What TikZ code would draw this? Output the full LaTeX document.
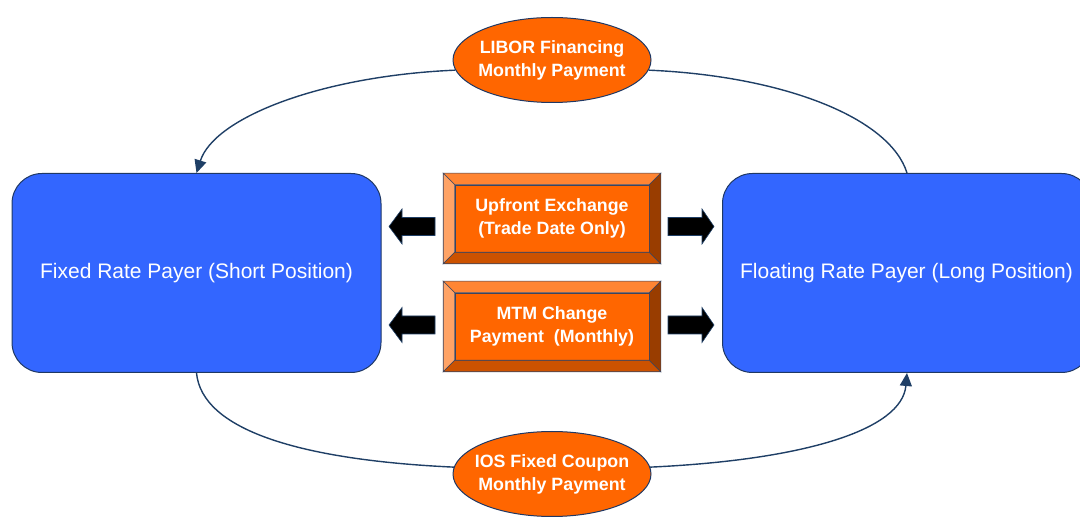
\documentclass[tikz,border=0pt]{standalone}
\usepackage{fontspec}
\setmainfont{Liberation Sans}
\usetikzlibrary{arrows.meta,shapes.geometric,calc}

\definecolor{partyblue}{HTML}{3366FF}
\definecolor{partyedge}{HTML}{1F3864}
\definecolor{floworange}{HTML}{FF6600}
\definecolor{flowline}{HTML}{1F3F66}
\definecolor{bevtop}{HTML}{FF8533}
\definecolor{bevleft}{HTML}{FFA366}
\definecolor{bevbottom}{HTML}{CC5200}
\definecolor{bevright}{HTML}{993D00}
\definecolor{beveledge}{HTML}{3A4560}

\tikzset{
  party/.style={draw=partyedge, line width=1pt, fill=partyblue, rounded corners=30,
    minimum width=369, minimum height=199, text=white, font=\fontsize{21}{24}\selectfont},
  payment/.style={ellipse, draw=partyedge, line width=1pt, fill=floworange,
    minimum width=198, minimum height=85, inner sep=0pt, align=center, text=white,
    font=\fontsize{17.8}{23}\selectfont\bfseries},
  face/.style={fill=floworange, draw=beveledge, line width=0.6pt, minimum width=194,
    minimum height=67, inner sep=0pt, align=center, text=white,
    font=\fontsize{17.8}{23}\selectfont\bfseries},
  bevel/.style={draw=beveledge, line width=0.6pt},
  flow/.style={draw=flowline, line width=1.4pt},
  flowtip/.style={flow, -{Triangle[length=13,width=12]}},
  blockarrow/.style={fill=black, draw=flowline, line width=0.6pt},
}

% a text line that does not widen the shape around it
\newcommand\snug[1]{\makebox[0pt]{#1}}

% beveled button around a face node: #1 = node name, #2 = bevel width
\newcommand\bevelframe[2]{%
  \path[bevel, fill=bevtop] ($(#1.north west)+(-#2,-#2)$) -- ($(#1.north east)+(#2,-#2)$)
    -- (#1.north east) -- (#1.north west) -- cycle;
  \path[bevel, fill=bevleft] ($(#1.north west)+(-#2,-#2)$) -- (#1.north west)
    -- (#1.south west) -- ($(#1.south west)+(-#2,#2)$) -- cycle;
  \path[bevel, fill=bevbottom] ($(#1.south west)+(-#2,#2)$) -- (#1.south west)
    -- (#1.south east) -- ($(#1.south east)+(#2,#2)$) -- cycle;
  \path[bevel, fill=bevright] ($(#1.north east)+(#2,-#2)$) -- ($(#1.south east)+(#2,#2)$)
    -- (#1.south east) -- (#1.north east) -- cycle;
}

% block arrows: centre point of the shaft end, pointing left or right
\newcommand\leftblock[2]{%
  \path[blockarrow] (#1-46,#2) -- ++(13,-17.5) -- ++(0,8.5) -- ++(33,0) -- ++(0,18)
    -- ++(-33,0) -- ++(0,8.5) -- cycle;}
\newcommand\rightblock[2]{%
  \path[blockarrow] (#1+46,#2) -- ++(-12,-17.5) -- ++(0,8.5) -- ++(-34,0) -- ++(0,18)
    -- ++(34,0) -- ++(0,8.5) -- cycle;}

\begin{document}
\begin{tikzpicture}[x=1pt, y=-1pt]
\useasboundingbox (0,0) rectangle (1080,518);

% counterparties
\node[party] (fixed) at (196.5,273) {Fixed Rate Payer (Short Position)};
\node[party] (float) at (907,273) {\hspace*{-1pt}Floating Rate Payer (Long Position)};

% periodic payments
\node[payment] (libor) at (552,60) {\snug{LIBOR Financing}\\\snug{Monthly Payment}};
\node[payment] (ios) at (552,474) {\snug{IOS Fixed Coupon}\\\snug{Monthly Payment}};

% exchange buttons
\node[face] (up) at (552,218.5) {Upfront Exchange\\(Trade Date Only)};
\node[face] (mtm) at (552,326.5) {MTM Change\\Payment\ \ (Monthly)};
\bevelframe{up}{11.5}
\bevelframe{mtm}{11.5}

% direction markers
\leftblock{435}{226.5}
\leftblock{435}{325}
\rightblock{668}{226.5}
\rightblock{668}{325}

% payment flows
\draw[flowtip] (libor.186) .. controls (320,76) and (214,118) .. (fixed.north);
\draw[flow] (libor.354) .. controls (784,76) and (890,118) .. (float.north);
\draw[flow] (fixed.south) .. controls (202,430) and (300,460) .. (ios.176);
\draw[flowtip] (ios.4) .. controls (804,460) and (902,430) .. (float.south);
\end{tikzpicture}
\end{document}
